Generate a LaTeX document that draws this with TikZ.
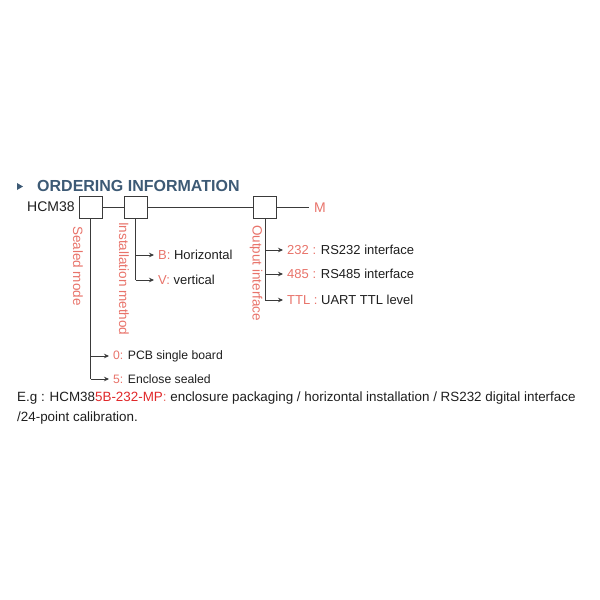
\documentclass[tikz,border=0pt]{standalone}
\usepackage{fontspec}
\setmainfont{Liberation Sans}
\usetikzlibrary{arrows.meta}
\definecolor{salmon}{HTML}{E8736A}
\definecolor{brightred}{HTML}{E0282A}
\definecolor{titleblue}{HTML}{3D5A75}
\definecolor{linegray}{HTML}{3A3A3A}
\definecolor{txt}{HTML}{1E1E1E}
\begin{document}
\begin{tikzpicture}[x=1pt,y=-1pt,
  box/.style={draw=linegray, fill=white, minimum width=23pt, minimum height=22pt, inner sep=0pt, line width=0.7pt},
  conn/.style={draw=linegray, line width=0.7pt},
  arr/.style={conn, -{Stealth[length=5pt,width=4.5pt]}, shorten >=4pt},
  lbl/.style={anchor=west, inner sep=0pt, text=txt, font=\fontsize{13}{15}\selectfont},
  vlbl/.style={rotate=-90, anchor=west, inner sep=0pt, text=salmon, font=\fontsize{13.5}{15}\selectfont}]
\useasboundingbox (0,0) rectangle (600,600);
% title
\fill[titleblue] (17,183) -- (23,186.5) -- (17,190) -- cycle;
\node[anchor=west, inner sep=0pt, text=titleblue, font=\fontsize{16}{18}\bfseries\selectfont] (title) at (37,186) {ORDERING INFORMATION};
% code line
\node[anchor=west, inner sep=0pt, text=txt, font=\fontsize{14}{16}\selectfont] (hcm) at (27,207) {HCM38};
\node[box] (b1) at (90.5,207.5) {};
\node[box] (b2) at (135.5,207.5) {};
\node[box] (b3) at (265,207.5) {};
\node[anchor=west, inner sep=0pt, text=salmon, font=\fontsize{14}{16}\selectfont] (m) at (314,207.5) {M};
\coordinate (mend) at (309,207.5);
\draw[conn] (b1.east) -- (b2.west);
\draw[conn] (b2.east) -- (b3.west);
\draw[conn] (b3.east) -- (mend);
% vertical labels
\node[vlbl] (sm) at (78,226) {Sealed mode};
\node[vlbl] (im) at (124,222) {Installation method};
\node[vlbl] (oi) at (256,225) {Output interface};
% sealed mode branches
\coordinate (s0) at (90.5,356);
\coordinate (s5) at (90.5,379);
\node[lbl, font=\fontsize{12.2}{14}\selectfont] (t0) at (113,356) {\textcolor{salmon}{0:} PCB single board};
\node[lbl, font=\fontsize{12.2}{14}\selectfont] (t5) at (113,379) {\textcolor{salmon}{5:} Enclose sealed};
\draw[conn] (b1.south) -- (s5);
\draw[arr] (s0) -- (t0.west);
\draw[arr] (s5) -- (t5.west);
% installation branches
\coordinate (iB) at (135.5,255);
\coordinate (iV) at (135.5,280);
\node[lbl] (tB) at (158,255) {\textcolor{salmon}{B:} Horizontal};
\node[lbl] (tV) at (158,280) {\textcolor{salmon}{V:} vertical};
\draw[conn] (b2.south) -- (iV);
\draw[arr] (iB) -- (tB.west);
\draw[arr] (iV) -- (tV.west);
% output branches
\coordinate (o1) at (265,250);
\coordinate (o2) at (265,274);
\coordinate (o3) at (265,300);
\node[lbl] (t1) at (287,250) {\textcolor{salmon}{232} \textcolor{salmon}{:} RS232 interface};
\node[lbl] (t2) at (287,274) {\textcolor{salmon}{485} \textcolor{salmon}{:} RS485 interface};
\node[lbl] (t3) at (287,300) {\textcolor{salmon}{TTL} \textcolor{salmon}{:} UART TTL level};
\draw[conn] (b3.south) -- (o3);
\draw[arr] (o1) -- (t1.west);
\draw[arr] (o2) -- (t2.west);
\draw[arr] (o3) -- (t3.west);
% footer
\node[lbl, anchor=base west, font=\fontsize{13.4}{16}\selectfont] (f1) at (17,401) {E.g : HCM38\textcolor{brightred}{5B-232-MP}\textcolor{salmon}{:} enclosure packaging / horizontal installation / RS232 digital interface};
\node[lbl, anchor=base west, font=\fontsize{13.4}{16}\selectfont] (f2) at (17,421) {/24-point calibration.};
\end{tikzpicture}
\end{document}
